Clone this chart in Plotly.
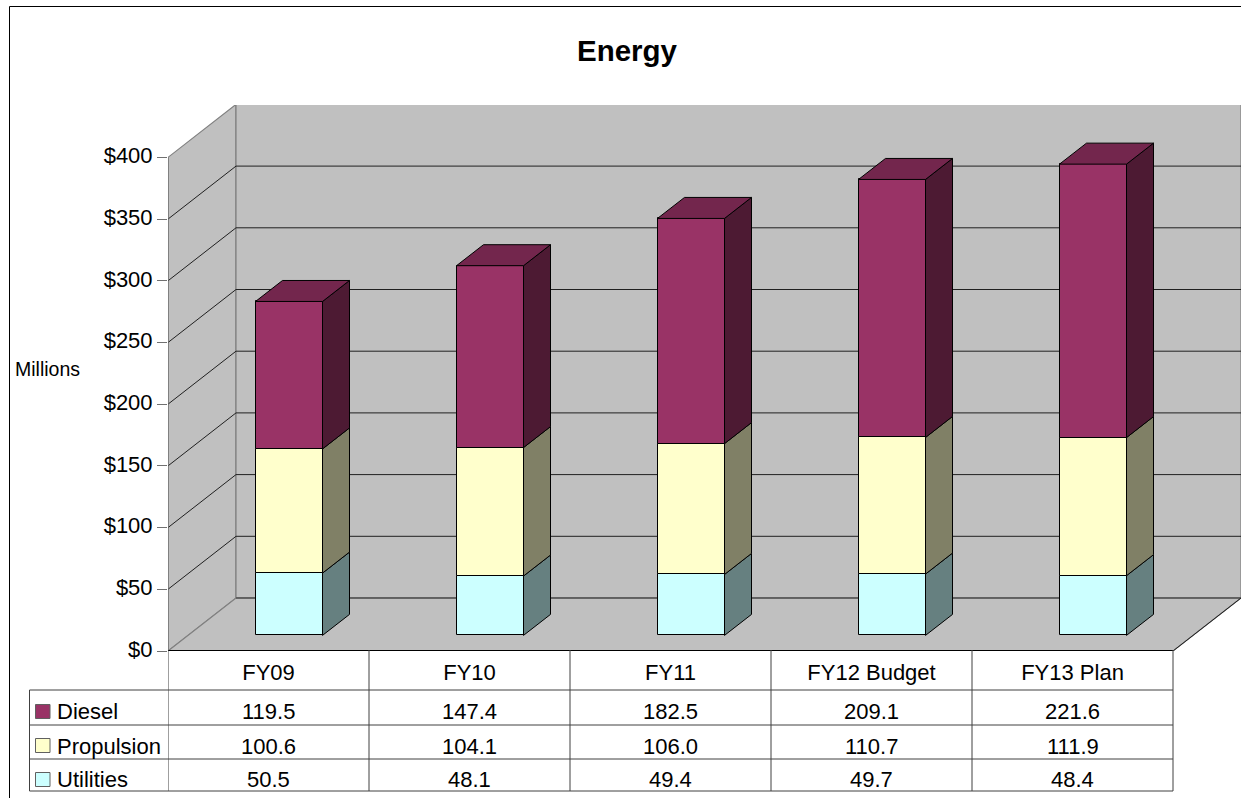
import plotly.graph_objects as go

categories = ["FY09", "FY10", "FY11", "FY12 Budget", "FY13 Plan"]
utilities = [50.5, 48.1, 49.4, 49.7, 48.4]
propulsion = [100.6, 104.1, 106.0, 110.7, 111.9]
diesel = [119.5, 147.4, 182.5, 209.1, 221.6]
y_ticks = [0, 50, 100, 150, 200, 250, 300, 350, 400]
y_labels = ["$0", "$50", "$100", "$150", "$200", "$250", "$300", "$350", "$400"]

series = [
    ("Utilities", utilities, "#CCFFFF", "#668080", "#99BFBF"),
    ("Propulsion", propulsion, "#FFFFCC", "#808066", "#BFBF99"),
    ("Diesel", diesel, "#993366", "#4D1A33", "#73264D"),
]
table_rows = [("Diesel", diesel, "#993366"), ("Propulsion", propulsion, "#FFFFCC"), ("Utilities", utilities, "#CCFFFF")]

W, H = 1241, 798
L, T, B = 168, 105, 651
CAT = 201.0            # px per category
PXV = 1.234            # px per dollar
DX, DY = 68 / CAT, 53 / PXV        # wall depth, data units
FX, FY = 20.5 / CAT, 15.6 / PXV    # bar front offset
SX, SY = 27 / CAT, 21 / PXV        # bar depth
BW = 67 / CAT
n = len(categories)
xmax = (W - L) / CAT
ymax = (B - T) / PXV


def py(y):
    return (B - y) / (B - T)


def poly(points):
    return "M " + " L ".join(f"{a},{b}" for a, b in points) + " Z"


shapes = []
WALL = "#C0C0C0"
EDGE = "#808080"
for pts in (
    [(0, 0), (DX, DY), (DX, 400 + DY), (0, 400)],
    [(DX, DY), (n + DX, DY), (n + DX, 400 + DY), (DX, 400 + DY)],
    [(0, 0), (n, 0), (n + DX, DY), (DX, DY)],
):
    shapes.append(dict(type="path", path=poly(pts), xref="x", yref="y", layer="below",
                       fillcolor=WALL, line=dict(color=EDGE, width=1.2)))
for t in y_ticks[1:-1]:
    shapes.append(dict(type="line", xref="x", yref="y", layer="below", x0=DX, x1=n + DX, y0=t + DY, y1=t + DY,
                       line=dict(color="#202020", width=1)))
    shapes.append(dict(type="line", xref="x", yref="y", layer="below", x0=0, x1=DX, y0=t, y1=t + DY,
                       line=dict(color="#202020", width=1)))
shapes.append(dict(type="line", xref="x", yref="y", layer="below", x0=DX, x1=n + DX, y0=DY, y1=DY,
                   line=dict(color="#505050", width=1.4)))
shapes.append(dict(type="line", xref="x", yref="y", layer="below", x0=n, x1=n + DX, y0=0, y1=DY,
                   line=dict(color="#202020", width=1)))

fig = go.Figure()
centers = [i + 0.5 for i in range(n)]
cum = [0.0] * n
for name, vals, col, side, top in series:
    fig.add_trace(go.Bar(
        x=[c + FX for c in centers], y=vals, base=[b + FY for b in cum], width=BW, name=name,
        marker=dict(color=col, line=dict(color="#000000", width=1)), showlegend=False, hoverinfo="skip"))
    for i in range(n):
        x1 = centers[i] + FX + BW / 2
        y0, y1 = cum[i] + FY, cum[i] + vals[i] + FY
        fig.add_trace(go.Scatter(
            x=[x1, x1 + SX, x1 + SX, x1, x1], y=[y0, y0 + SY, y1 + SY, y1, y0],
            mode="lines", fill="toself", fillcolor=side, line=dict(color="#000000", width=1),
            showlegend=False, hoverinfo="skip"))
    cum = [c + v for c, v in zip(cum, vals)]
for i in range(n):
    x0 = centers[i] + FX - BW / 2
    x1 = x0 + BW
    y = cum[i] + FY
    fig.add_trace(go.Scatter(
        x=[x0, x1, x1 + SX, x0 + SX, x0], y=[y, y, y + SY, y + SY, y],
        mode="lines", fill="toself", fillcolor=series[-1][4], line=dict(color="#000000", width=1),
        showlegend=False, hoverinfo="skip"))

# edges lying on the plot boundary
fig.add_trace(go.Scatter(x=[0, 0], y=[0, 400], mode="lines", cliponaxis=False, line=dict(color="#707070", width=1.2),
                         showlegend=False, hoverinfo="skip"))
fig.add_trace(go.Scatter(x=[0, n], y=[0, 0], mode="lines", cliponaxis=False, line=dict(color="#000000", width=2),
                         showlegend=False, hoverinfo="skip"))

# data table
FONT = "Liberation Sans, Arial, sans-serif"
TS = 22
LINE = "#404040"
row_lines = [690, 725, 759, 791]
row_text = [711, 746, 779]
swatch = [(704.5, 718.5), (738.5, 752.5), (772.5, 786.5)]
table_left = 29.5
for yy in row_lines:
    shapes.append(dict(type="line", xref="paper", yref="paper", x0=(table_left - L) / (W - L), x1=n / xmax,
                       y0=py(yy), y1=py(yy), line=dict(color=LINE, width=1)))
for i in range(n + 1):
    shapes.append(dict(type="line", xref="x", yref="paper", x0=i, x1=i, y0=py(650), y1=py(791),
                       line=dict(color=LINE, width=1)))
shapes.append(dict(type="line", xref="paper", yref="paper", x0=(table_left - L) / (W - L), x1=(table_left - L) / (W - L),
                   y0=py(690), y1=py(791), line=dict(color=LINE, width=1)))

annotations = []
for (name, vals, col), yt, (s0, s1) in zip(table_rows, row_text, swatch):
    shapes.append(dict(type="rect", xref="paper", yref="paper", x0=(35.5 - L) / (W - L), x1=(50 - L) / (W - L),
                       y0=py(s1), y1=py(s0), fillcolor=col, line=dict(color="#606060", width=1)))
    annotations.append(dict(xref="paper", yref="paper", x=(55 - L) / (W - L), y=py(yt), text=name, showarrow=False,
                            xanchor="left", yanchor="middle", font=dict(size=TS, color="#000000", family=FONT)))
    for c, v in zip(centers, vals):
        annotations.append(dict(xref="x", yref="paper", x=c, y=py(yt), text=f"{v:.1f}", showarrow=False,
                                xanchor="center", yanchor="middle", font=dict(size=TS, color="#000000", family=FONT)))
annotations.append(dict(xref="paper", yref="paper", x=(47 - L) / (W - L), y=py(369), text="Millions", showarrow=False,
                        xanchor="center", yanchor="middle", font=dict(size=19.5, color="#000000", family=FONT)))
annotations.append(dict(xref="paper", yref="paper", x=(627 - L) / (W - L), y=py(51), text="<b>Energy</b>", showarrow=False,
                        xanchor="center", yanchor="middle", font=dict(size=29.5, color="#000000", family=FONT)))

# outer chart border
shapes.append(dict(type="line", xref="paper", yref="paper", x0=(9.5 - L) / (W - L), x1=1, y0=py(6.5), y1=py(6.5),
                   line=dict(color="#000000", width=1)))
shapes.append(dict(type="line", xref="paper", yref="paper", x0=(9.5 - L) / (W - L), x1=(9.5 - L) / (W - L), y0=py(798), y1=py(6.5),
                   line=dict(color="#000000", width=1)))

fig.update_layout(
    width=W, height=H, margin=dict(l=L, r=0, t=T, b=H - B),
    paper_bgcolor="white", plot_bgcolor="white", barmode="overlay", bargap=0,
    font=dict(family=FONT, size=TS, color="#000000"),
    shapes=shapes, annotations=annotations,
    xaxis=dict(range=[0, xmax], tickvals=centers, ticktext=categories, showgrid=False, zeroline=False,
               showline=False, ticks="outside", ticklen=2, tickcolor="rgba(0,0,0,0)",
               tickfont=dict(size=TS, family=FONT, color="#000000")),
    yaxis=dict(range=[0, ymax], tickvals=y_ticks, ticktext=y_labels, showgrid=False, zeroline=False,
               showline=False, ticks="outside", ticklen=10, tickwidth=1, tickcolor="#707070",
               ticklabelshift=-2, tickfont=dict(size=TS, family=FONT, color="#000000")),
)
fig.write_html("out.html", config={"displayModeBar": False},
               post_script="document.body.style.margin='0';document.body.style.overflow='hidden';")
